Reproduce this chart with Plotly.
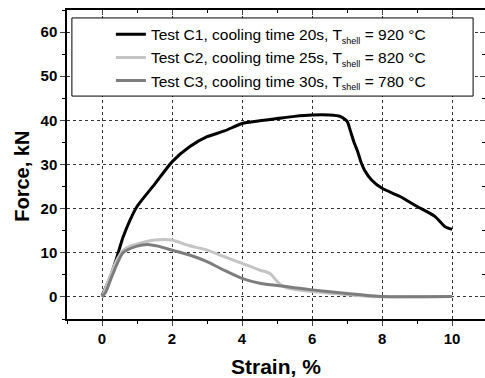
import plotly.graph_objects as go

# ---- data ----
c1_strain = [0, 0.2, 0.4, 0.6, 0.8, 1.0, 1.5, 2.0, 2.5, 3.0, 3.5, 4.0, 4.5, 5.0, 5.5, 6.0, 6.5, 6.8,
             7.0, 7.1, 7.2, 7.3, 7.4, 7.5, 7.7, 8.0, 8.5, 9.0, 9.5, 9.8, 10.0]
c1_force = [0.3, 3.8, 8.4, 13.5, 17.4, 20.5, 25.5, 30.6, 34.0, 36.3, 37.6, 39.3, 39.9, 40.4, 40.9, 41.2, 41.2, 40.9,
            39.8, 37.5, 35.0, 33.0, 30.5, 28.7, 26.5, 24.6, 22.8, 20.5, 18.3, 15.9, 15.3]

c2_strain = [0, 0.2, 0.4, 0.6, 0.8, 1.0, 1.4, 1.8, 2.0, 2.5, 3.0, 3.5, 4.0, 4.5, 4.8, 4.95, 5.1, 5.3,
             6.0, 7.0, 7.8, 8.5, 10.0]
c2_force = [0, 4.0, 8.0, 10.5, 11.5, 12.0, 12.8, 13.0, 12.9, 11.6, 10.6, 9.1, 7.6, 6.1, 5.3, 4.0, 2.8, 2.0,
            1.2, 0.5, 0.05, 0.05, 0.1]

c3_strain = [0, 0.1, 0.3, 0.6, 1.0, 1.3, 1.6, 2.0, 2.5, 3.0, 3.5, 4.0, 4.5, 5.0, 5.5, 6.0, 7.0, 8.0, 10.0]
c3_force = [0, 1.0, 5.0, 10.0, 11.5, 11.9, 11.5, 10.6, 9.5, 8.0, 6.0, 4.2, 3.1, 2.6, 2.1, 1.6, 0.8, 0.1, 0.1]

SUB = '<sub><span style="font-size:9px;color:black">shell</span></sub>'
names = [f"Test C1, cooling time 20s, T{SUB} = 920 °C",
         f"Test C2, cooling time 25s, T{SUB} = 820 °C",
         f"Test C3, cooling time 30s, T{SUB} = 780 °C"]
colors = ["#000000", "#c4c4c4", "#7d7d7d"]

x_ticks = [0, 2, 4, 6, 8, 10]
y_ticks = [0, 10, 20, 30, 40, 50, 60]

FONT = "Liberation Sans, Arial, sans-serif"

fig = go.Figure()
for xs, ys, nm, col in [(c1_strain, c1_force, names[0], colors[0]),
                        (c2_strain, c2_force, names[1], colors[1]),
                        (c3_strain, c3_force, names[2], colors[2])]:
    fig.add_trace(go.Scatter(x=xs, y=ys, name=nm, mode="lines",
                             line=dict(color=col, width=3, shape="spline", smoothing=0.6)))

# invisible trace for mirrored inside ticks
fig.add_trace(go.Scatter(x=[0], y=[0], xaxis="x2", yaxis="y2", showlegend=False,
                         mode="markers", marker=dict(opacity=0), hoverinfo="skip"))

fig.update_layout(
    width=485, height=378,
    margin=dict(l=67, r=0, t=10, b=59),
    paper_bgcolor="white", plot_bgcolor="white",
    font=dict(family=FONT, color="black"),
    showlegend=True,
    legend=dict(x=0.105, y=0.975, xanchor="left", yanchor="top",
                bgcolor="rgba(0,0,0,0)", borderwidth=0,
                font=dict(size=15.5, family=FONT, color="black"), tracegroupgap=0),
    xaxis=dict(range=[-1, 10.94], tickvals=x_ticks, ticks="outside", ticklen=5, tickwidth=1,
               minor=dict(dtick=1, tick0=0, ticks="outside", ticklen=3, tickcolor="black", showgrid=False),
               showline=True, linecolor="black", linewidth=1.5, zeroline=False,
               showgrid=True, gridcolor="#333333", griddash="dot", gridwidth=1,
               tickfont=dict(size=15, family=FONT, weight="bold")),
    yaxis=dict(range=[-5, 65], tickvals=y_ticks, ticks="outside", ticklen=5, tickwidth=1,
               minor=dict(dtick=5, tick0=0, ticks="outside", ticklen=3, tickcolor="black", showgrid=False),
               showline=True, linecolor="black", linewidth=1.5, zeroline=False,
               showgrid=True, gridcolor="#333333", griddash="dot", gridwidth=1,
               tickfont=dict(size=15, family=FONT, weight="bold")),
    xaxis2=dict(range=[-1, 10.94], overlaying="x", side="top", tickvals=x_ticks, ticks="inside",
                ticklen=5, showticklabels=False, showgrid=False, zeroline=False,
                minor=dict(dtick=1, tick0=0, ticks="inside", ticklen=3, tickcolor="black"),
                showline=True, linecolor="black", linewidth=1.5),
    yaxis2=dict(range=[-5, 65], overlaying="y", side="right", tickvals=y_ticks, ticks="inside",
                ticklen=5, showticklabels=False, showgrid=False, zeroline=False,
                minor=dict(dtick=5, tick0=0, ticks="inside", ticklen=3, tickcolor="black"),
                showline=True, linecolor="black", linewidth=1.5),
    shapes=[dict(type="rect", xref="x", yref="y", x0=-0.86, x1=10.6, y0=45.5, y1=63.2,
                 line=dict(color="black", width=1), fillcolor="white", layer="between")],
    annotations=[
        dict(text="<b>Strain, %</b>", xref="paper", yref="paper", x=0.5, y=-0.155,
             xanchor="center", yanchor="middle", showarrow=False, font=dict(size=21, family=FONT)),
        dict(text="<b>Force, kN</b>", xref="paper", yref="paper", x=-0.108, y=0.463,
             xanchor="center", yanchor="middle", textangle=-90, showarrow=False,
             font=dict(size=20, family=FONT)),
    ],
)

fig.write_html("out.html", config={"displayModeBar": False},
               post_script="document.body.style.margin='0px';")
